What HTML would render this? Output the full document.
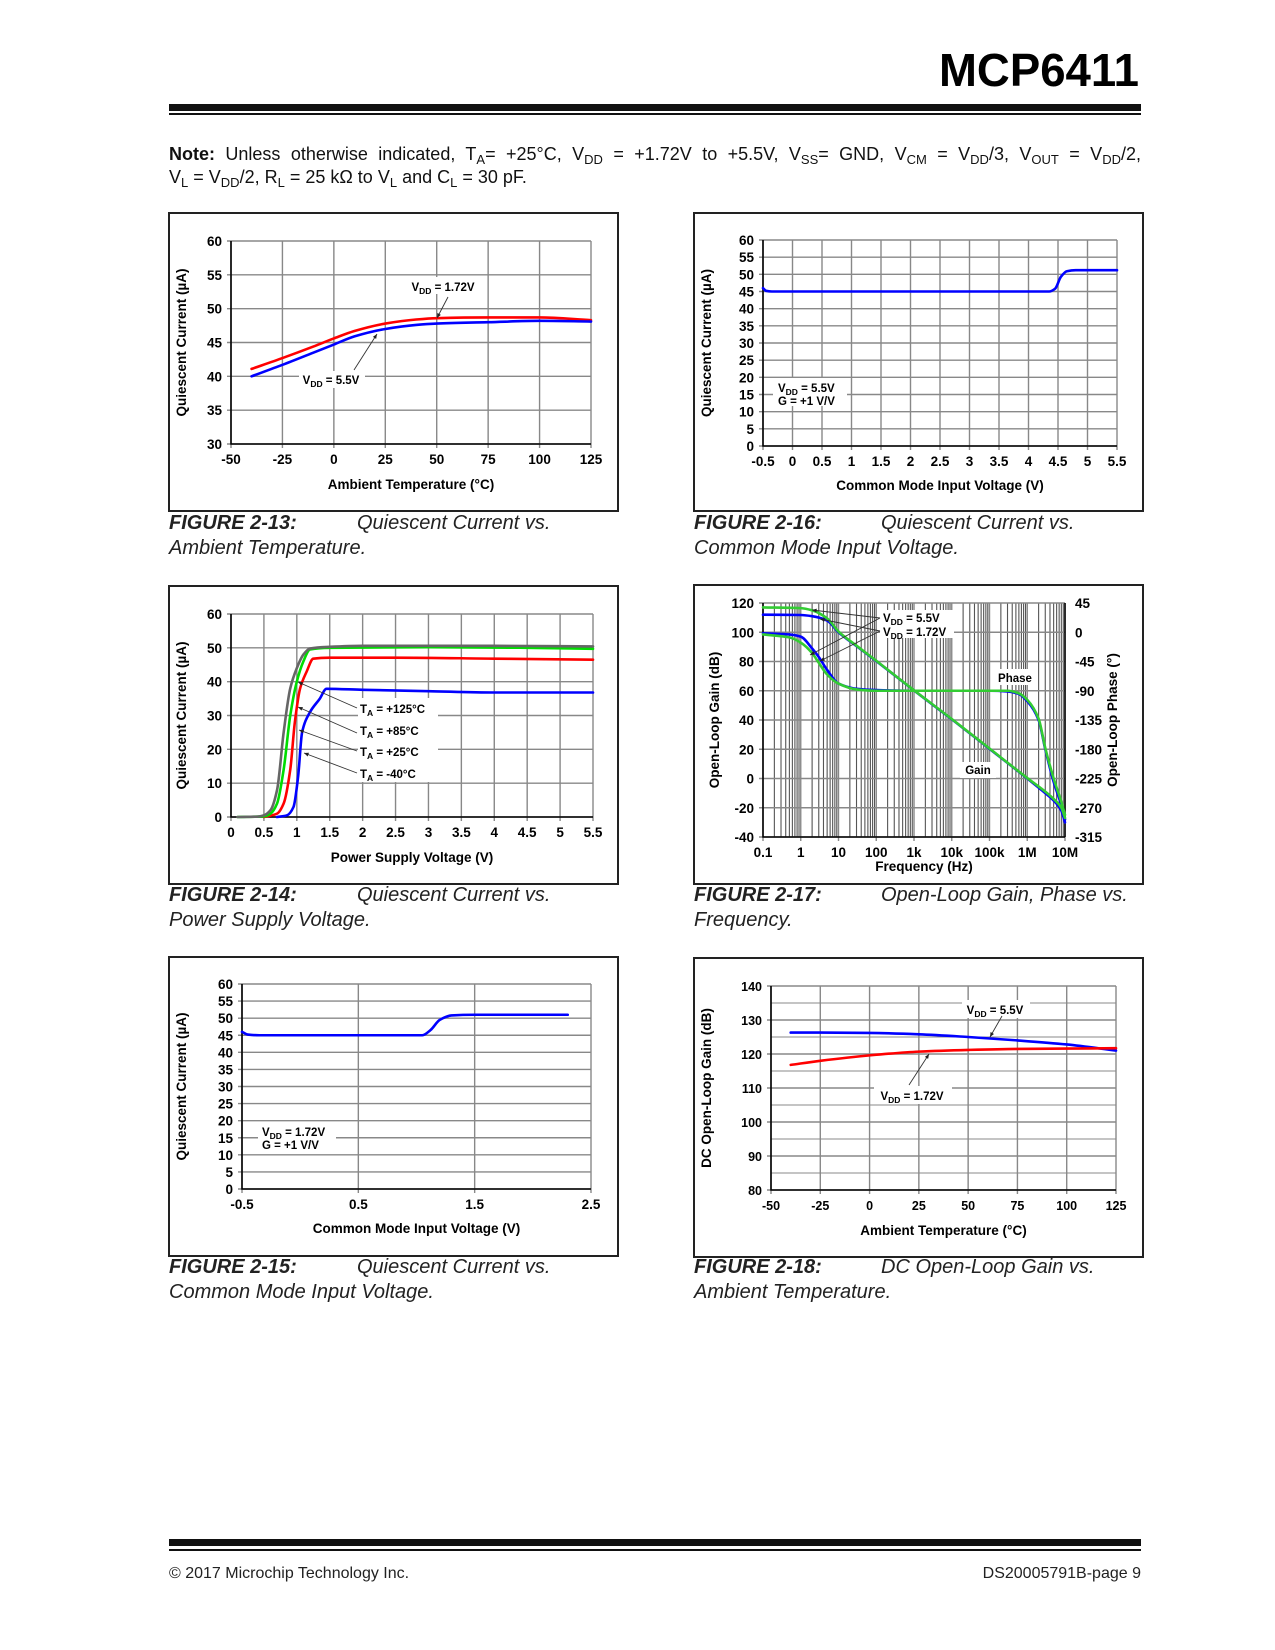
<!DOCTYPE html>
<html><head><meta charset="utf-8">
<style>
html,body{margin:0;padding:0;background:#fff;}
body{width:1275px;height:1650px;position:relative;overflow:hidden;font-family:"Liberation Sans",Arial,sans-serif;}
#note{position:absolute;left:169px;top:143px;width:972px;font-size:18px;line-height:23px;color:#111;}
#note .l1{text-align:justify;text-align-last:justify;white-space:nowrap;}
sub{font-size:13px;vertical-align:-4px;line-height:0;}
</style></head>
<body>
<div id="note">
<div class="l1"><b>Note:</b> Unless otherwise indicated, T<sub>A</sub>= +25°C, V<sub>DD</sub> = +1.72V to +5.5V, V<sub>SS</sub>= GND, V<sub>CM</sub> = V<sub>DD</sub>/3, V<sub>OUT</sub> = V<sub>DD</sub>/2,</div>
<div>V<sub>L</sub> = V<sub>DD</sub>/2, R<sub>L</sub> = 25 kΩ to V<sub>L</sub> and C<sub>L</sub> = 30 pF.</div>
</div>
<svg id="pg" width="1275" height="1650" style="position:absolute;left:0;top:0" xmlns="http://www.w3.org/2000/svg" font-family="Liberation Sans, Arial, sans-serif">
<text x="1139" y="86" text-anchor="end" font-size="46" font-weight="bold" textLength="200" lengthAdjust="spacingAndGlyphs">MCP6411</text>
<rect x="169" y="104" width="972" height="7" fill="#111"/>
<rect x="169" y="113" width="972" height="2" fill="#111"/>
<rect x="169" y="1539" width="972" height="7" fill="#111"/>
<rect x="169" y="1549" width="972" height="2" fill="#111"/>
<text x="169" y="1578" font-size="16" fill="#222">© 2017 Microchip Technology Inc.</text>
<text x="1141" y="1578" font-size="16" fill="#222" text-anchor="end">DS20005791B-page 9</text>
<g font-size="20" font-style="italic" fill="#222">
<text x="169" y="529"><tspan font-weight="bold">FIGURE 2-13:</tspan><tspan x="357">Quiescent Current vs.</tspan><tspan x="169" y="554">Ambient Temperature.</tspan></text>
<text x="694" y="529"><tspan font-weight="bold">FIGURE 2-16:</tspan><tspan x="881">Quiescent Current vs.</tspan><tspan x="694" y="554">Common Mode Input Voltage.</tspan></text>
<text x="169" y="901"><tspan font-weight="bold">FIGURE 2-14:</tspan><tspan x="357">Quiescent Current vs.</tspan><tspan x="169" y="926">Power Supply Voltage.</tspan></text>
<text x="694" y="901"><tspan font-weight="bold">FIGURE 2-17:</tspan><tspan x="881">Open-Loop Gain, Phase vs.</tspan><tspan x="694" y="926">Frequency.</tspan></text>
<text x="169" y="1273"><tspan font-weight="bold">FIGURE 2-15:</tspan><tspan x="357">Quiescent Current vs.</tspan><tspan x="169" y="1298">Common Mode Input Voltage.</tspan></text>
<text x="694" y="1273"><tspan font-weight="bold">FIGURE 2-18:</tspan><tspan x="881">DC Open-Loop Gain vs.</tspan><tspan x="694" y="1298">Ambient Temperature.</tspan></text>
</g>
</svg>
<script>
// ---- Figure 2-13 data ----
const f13Temp = [-40, -25, -10, 0, 10, 25, 40, 50, 75, 100, 125];
const f13Vdd172 = [41.1, 42.7, 44.4, 45.6, 46.7, 47.8, 48.4, 48.6, 48.7, 48.7, 48.3];
const f13Vdd55 = [40.0, 41.7, 43.5, 44.7, 45.9, 47.0, 47.6, 47.8, 48.0, 48.2, 48.1];
const f13XTicks = [-50, -25, 0, 25, 50, 75, 100, 125];
const f13YTicks = [30, 35, 40, 45, 50, 55, 60];
// ---- Figure 2-16 data ----
const f16Vcm = [-0.5, -0.45, -0.35, 4.35, 4.45, 4.55, 4.65, 4.8, 5.5];
const f16Iq = [46.0, 45.2, 45.0, 45.0, 45.8, 49.3, 50.9, 51.2, 51.2];
const f16XTicks = [-0.5, 0, 0.5, 1, 1.5, 2, 2.5, 3, 3.5, 4, 4.5, 5, 5.5];
const f16YTicks = [0, 5, 10, 15, 20, 25, 30, 35, 40, 45, 50, 55, 60];
// ---- Figure 2-14 data ----
const f14V125 = [0.1, 0.4, 0.5, 0.6, 0.7, 0.8, 0.9, 1.0, 1.1, 1.2, 1.5, 2, 3, 4, 5.5];
const f14I125 = [0, 0.1, 0.5, 2, 8, 25, 38, 44, 48, 49.8, 50.3, 50.6, 50.6, 50.6, 50.4];
const f14V85 = [0.1, 0.5, 0.6, 0.7, 0.8, 0.9, 1.0, 1.1, 1.2, 1.5, 3, 4.5, 5.5];
const f14I85 = [0, 0.2, 1, 4, 14, 30, 40, 46, 49.5, 50, 50.2, 50, 49.7];
const f14V25 = [0.5, 0.7, 0.8, 0.9, 0.97, 1.05, 1.15, 1.25, 1.5, 2.5, 4, 5.5];
const f14I25 = [0, 1, 4, 14, 28, 38, 43, 46.8, 47.1, 47.1, 46.8, 46.5];
const f14Vm40 = [0.7, 0.85, 0.95, 1.02, 1.08, 1.2, 1.35, 1.45, 2, 3, 4, 5.5];
const f14Im40 = [0, 0.5, 3, 12, 25, 31, 35, 37.9, 37.6, 37.2, 36.8, 36.8];
const f14XTicks = [0, 0.5, 1, 1.5, 2, 2.5, 3, 3.5, 4, 4.5, 5, 5.5];
const f14YTicks = [0, 10, 20, 30, 40, 50, 60];
// ---- Figure 2-17 data ----
const f17GainFreq = [0.1, 1, 2, 5, 10, 30, 100, 1e3, 1e4, 1e5, 1e6, 3e6, 5e6, 8e6, 1e7];
const f17Gain55 = [112, 111.8, 111, 108, 100, 90.5, 80.3, 60.2, 40.5, 20.3, 0, -10, -15, -22, -30];
const f17Gain172 = [117, 116.5, 115, 109.5, 100.5, 90.8, 80.5, 60.3, 40.7, 20.5, 0.3, -9, -14, -20, -27];
const f17PhaseFreq = [0.1, 0.5, 1, 2, 3, 5, 10, 30, 100, 1e3, 1e5, 3e5, 6e5, 1e6, 2e6, 3e6, 5e6, 8e6, 1e7];
const f17Phase55 = [-1.6, -3.4, -6.8, -25, -38, -58, -79, -87, -89, -90, -90, -91, -95, -106, -135, -180, -230, -266, -288];
const f17Phase172 = [-3.4, -7.9, -16, -32, -47, -65, -79, -88, -90, -90, -90, -90, -94, -104, -133, -178, -225, -261, -281];
const f17XTickLabels = ['0.1', '1', '10', '100', '1k', '10k', '100k', '1M', '10M'];
const f17GainTicks = [-40, -20, 0, 20, 40, 60, 80, 100, 120];
const f17PhaseTicks = [-315, -270, -225, -180, -135, -90, -45, 0, 45];
// ---- Figure 2-15 data ----
const f15Vcm = [-0.5, -0.45, -0.35, 1.05, 1.12, 1.2, 1.3, 1.5, 2.3];
const f15Iq = [46.0, 45.2, 45.0, 45.0, 46.5, 49.5, 50.8, 51.0, 51.0];
const f15XTicks = [-0.5, 0.5, 1.5, 2.5];
const f15YTicks = [0, 5, 10, 15, 20, 25, 30, 35, 40, 45, 50, 55, 60];
// ---- Figure 2-18 data ----
const f18Temp = [-40, -25, 0, 25, 50, 75, 100, 125];
const f18Gain55 = [126.3, 126.3, 126.2, 125.8, 125.0, 124.0, 122.8, 121.0];
const f18Gain172 = [116.8, 118.0, 119.6, 120.7, 121.2, 121.5, 121.6, 121.7];
const f18XTicks = [-50, -25, 0, 25, 50, 75, 100, 125];
const f18YTicks = [80, 90, 100, 110, 120, 130, 140];

const NS = 'http://www.w3.org/2000/svg';
const pg = document.getElementById('pg');
function mk(tag, attrs, parent) {
  const el = document.createElementNS(NS, tag);
  for (const k in attrs) el.setAttribute(k, attrs[k]);
  (parent || pg).appendChild(el);
  return el;
}
function linScale(d0, d1, r0, r1) { return v => r0 + (v - d0) / (d1 - d0) * (r1 - r0); }
function logScale(d0, d1, r0, r1) { return v => r0 + (Math.log10(v) - Math.log10(d0)) / (Math.log10(d1) - Math.log10(d0)) * (r1 - r0); }

function frame(x0, y0, x1, y1, name) {
  const el = mk('rect', {x: x0, y: y0, width: x1 - x0, height: y1 - y0, fill: 'none', stroke: '#222', 'stroke-width': 2});
  
  
}
function grid(g, xs, ys, L, R, T, B, xv, yv) {
  xv.forEach(v => {
    const el = mk('line', {x1: xs(v), x2: xs(v), y1: T, y2: B + 4, stroke: '#888', 'stroke-width': 1.4}, g);
    
    
  });
  yv.forEach(v => {
    const el = mk('line', {x1: L - 4, x2: R, y1: ys(v), y2: ys(v), stroke: '#888', 'stroke-width': 1.4}, g);
    
    
  });
  const ax = mk('path', {d: `M${L},${T}V${B}H${R}`, fill: 'none', stroke: '#000', 'stroke-width': 1.6}, g);
  
  
}
function tickLabels(g, xs, ys, B, L, xv, yv, fs, xlab) {
  xv.forEach((v, i) => {
    const t = mk('text', {x: xs(v), y: B + 20, 'text-anchor': 'middle', 'font-size': fs, 'font-weight': 'bold'}, g);
    t.textContent = xlab ? xlab[i] : String(v);
    
    
  });
  yv.forEach(v => {
    const t = mk('text', {x: L - 9, y: ys(v) + 5, 'text-anchor': 'end', 'font-size': fs, 'font-weight': 'bold'}, g);
    t.textContent = String(v);
    
    
  });
}
function axisTitles(g, xt, xx, xy, yt, yx, yy) {
  const a = mk('text', {x: xx, y: xy, 'text-anchor': 'middle', 'font-size': 13.5, 'font-weight': 'bold'}, g);
  a.textContent = xt;
  
  
  const b = mk('text', {x: yx, y: yy, 'text-anchor': 'middle', 'font-size': 13.5, 'font-weight': 'bold', transform: `rotate(-90 ${yx} ${yy})`}, g);
  b.textContent = yt;
  
  
}
function series(g, xs, ys, X, Y, color, name, w) {
  const P = X.map((x, i) => [xs(x), ys(Y[i])]);
  const n = P.length;
  const dx = [], sl = [];
  for (let i = 0; i < n - 1; i++) { dx.push(P[i + 1][0] - P[i][0]); sl.push((P[i + 1][1] - P[i][1]) / dx[i]); }
  const m = new Array(n);
  m[0] = sl[0]; m[n - 1] = sl[n - 2];
  for (let i = 1; i < n - 1; i++) {
    if (sl[i - 1] * sl[i] <= 0) m[i] = 0;
    else { const w1 = 2 * dx[i] + dx[i - 1], w2 = dx[i] + 2 * dx[i - 1]; m[i] = (w1 + w2) / (w1 / sl[i - 1] + w2 / sl[i]); }
  }
  let d = 'M' + P[0][0].toFixed(2) + ',' + P[0][1].toFixed(2);
  for (let i = 0; i < n - 1; i++) {
    const h = dx[i] / 3;
    d += 'C' + (P[i][0] + h).toFixed(2) + ',' + (P[i][1] + m[i] * h).toFixed(2) + ' ' + (P[i + 1][0] - h).toFixed(2) + ',' + (P[i + 1][1] - m[i + 1] * h).toFixed(2) + ' ' + P[i + 1][0].toFixed(2) + ',' + P[i + 1][1].toFixed(2);
  }
  const p = mk('path', {d: d, fill: 'none', stroke: color, 'stroke-width': w || 2.6, 'stroke-linejoin': 'round', 'stroke-linecap': 'round'}, g);
  
  
}
function bgBox(g, x, y, w, h) {
  const r = mk('rect', {x: x, y: y, width: w, height: h, fill: '#fff'}, g);
  
  
}
function label(g, x, y, main, sub, rest, anchor, name) {
  const t = mk('text', {x: x, y: y, 'font-size': 11.5, 'font-weight': 'bold', 'text-anchor': anchor || 'start'}, g);
  
  
  const a = mk('tspan', {}, t); a.textContent = main;
  if (sub) { const s = mk('tspan', {'font-size': 8.5, dy: 3}, t); s.textContent = sub; }
  const r = mk('tspan', sub ? {dy: -3} : {}, t); r.textContent = rest;
}
function arrow(g, x1, y1, x2, y2) {
  const l = mk('line', {x1: x1, y1: y1, x2: x2, y2: y2, stroke: '#333', 'stroke-width': 0.9}, g);
  
  
  const a = Math.atan2(y2 - y1, x2 - x1), s = 5;
  const h = mk('path', {d: `M${x2},${y2}L${x2 - s * Math.cos(a - 0.4)},${y2 - s * Math.sin(a - 0.4)}L${x2 - s * Math.cos(a + 0.4)},${y2 - s * Math.sin(a + 0.4)}Z`, fill: '#222'}, g);
  
  
}
function group(name) {
  const g = mk('g', {});
  
  
  return g;
}

// ===== Figure 2-13 =====
(function () {
  frame(169, 213, 618, 511, 'figure-2-13-frame');
  const g = group('chart-2-13');
  const L = 231, R = 591, T = 241, B = 444;
  const xs = linScale(-50, 125, L, R), ys = linScale(30, 60, B, T);
  grid(g, xs, ys, L, R, T, B, f13XTicks, f13YTicks);
  tickLabels(g, xs, ys, B, L, f13XTicks, f13YTicks, 13.5);
  axisTitles(g, 'Ambient Temperature (°C)', (L + R) / 2, 489, 'Quiescent Current (µA)', 186, (T + B) / 2);
  series(g, xs, ys, f13Temp, f13Vdd172, '#f00', 'series-vdd-1.72v');
  series(g, xs, ys, f13Temp, f13Vdd55, '#00f', 'series-vdd-5.5v');
  bgBox(g, 404, 277, 78, 17);
  label(g, 443, 291, 'V', 'DD', ' = 1.72V', 'middle', 'label-vdd-1.72v');
  arrow(g, 448, 297, 437, 318);
  bgBox(g, 299, 371, 66, 17);
  label(g, 331, 384, 'V', 'DD', ' = 5.5V', 'middle', 'label-vdd-5.5v');
  arrow(g, 354, 370, 377, 334);
})();

// ===== Figure 2-16 =====
(function () {
  frame(694, 213, 1143, 511, 'figure-2-16-frame');
  const g = group('chart-2-16');
  const L = 763, R = 1117, T = 240, B = 446;
  const xs = linScale(-0.5, 5.5, L, R), ys = linScale(0, 60, B, T);
  grid(g, xs, ys, L, R, T, B, f16XTicks, f16YTicks);
  tickLabels(g, xs, ys, B, L, f16XTicks, f16YTicks, 13.5);
  axisTitles(g, 'Common Mode Input Voltage (V)', (L + R) / 2, 490, 'Quiescent Current (µA)', 711, (T + B) / 2);
  series(g, xs, ys, f16Vcm, f16Iq, '#00f', 'series-iq');
  bgBox(g, 773, 378, 74, 28);
  label(g, 778, 392, 'V', 'DD', ' = 5.5V', 'start', 'label-vdd-5.5v');
  label(g, 778, 405, 'G = +1 V/V', '', '', 'start', 'label-gain');
})();

// ===== Figure 2-14 =====
(function () {
  frame(169, 586, 618, 884, 'figure-2-14-frame');
  const g = group('chart-2-14');
  const L = 231, R = 593, T = 614, B = 817;
  const xs = linScale(0, 5.5, L, R), ys = linScale(0, 60, B, T);
  grid(g, xs, ys, L, R, T, B, f14XTicks, f14YTicks);
  tickLabels(g, xs, ys, B, L, f14XTicks, f14YTicks, 13.5);
  axisTitles(g, 'Power Supply Voltage (V)', (L + R) / 2, 862, 'Quiescent Current (µA)', 186, (T + B) / 2);
  series(g, xs, ys, f14Vm40, f14Im40, '#00f', 'series-ta-minus40');
  series(g, xs, ys, f14V25, f14I25, '#f00', 'series-ta-25');
  series(g, xs, ys, f14V85, f14I85, '#0d0', 'series-ta-85');
  series(g, xs, ys, f14V125, f14I125, '#666', 'series-ta-125');
  bgBox(g, 358, 698, 80, 84);
  label(g, 360, 713, 'T', 'A', ' = +125°C', 'start', 'label-ta-125');
  label(g, 360, 735, 'T', 'A', ' = +85°C', 'start', 'label-ta-85');
  label(g, 360, 756, 'T', 'A', ' = +25°C', 'start', 'label-ta-25');
  label(g, 360, 778, 'T', 'A', ' = -40°C', 'start', 'label-ta-minus40');
  arrow(g, 357, 708, 298, 682);
  arrow(g, 357, 733, 298, 707);
  arrow(g, 357, 751, 299, 730);
  arrow(g, 357, 773, 304, 753);
})();

// ===== Figure 2-17 =====
(function () {
  frame(694, 585, 1143, 884, 'figure-2-17-frame');
  const g = group('chart-2-17');
  const L = 763, R = 1065, T = 603, B = 837;
  const xs = logScale(0.1, 1e7, L, R), ys = linScale(-40, 120, B, T), ps = linScale(-315, 45, B, T);
  for (let d = 0; d < 8; d++) {
    for (let m = 2; m <= 9; m++) {
      const f = Math.pow(10, d - 1) * m;
      const el = mk('line', {x1: xs(f), x2: xs(f), y1: T, y2: B, stroke: '#555', 'stroke-width': 1.1}, g);
      
      
    }
  }
  const decades = f17XTickLabels.map((s, i) => Math.pow(10, i - 1));
  grid(g, xs, ys, L, R, T, B, decades, f17GainTicks);
  const ra = mk('line', {x1: R, x2: R, y1: T, y2: B, stroke: '#000', 'stroke-width': 1.6}, g);
  
  
  tickLabels(g, xs, ys, B, L, decades, f17GainTicks, 13.5, f17XTickLabels);
  f17PhaseTicks.forEach(v => {
    const t = mk('text', {x: R + 10, y: ps(v) + 5, 'font-size': 13.5, 'font-weight': 'bold'}, g);
    t.textContent = String(v);
    
    
  });
  axisTitles(g, 'Frequency (Hz)', (L + R) / 2 + 10, 871, 'Open-Loop Gain (dB)', 719, (T + B) / 2);
  const pt = mk('text', {x: 1117, y: (T + B) / 2, 'text-anchor': 'middle', 'font-size': 13.5, 'font-weight': 'bold', transform: `rotate(-90 1117 ${(T + B) / 2})`}, g);
  pt.textContent = 'Open-Loop Phase (°)';
  
  
  series(g, xs, ps, f17PhaseFreq, f17Phase55, '#00f', 'phase-vdd-5.5v');
  series(g, xs, ys, f17GainFreq, f17Gain55, '#00f', 'gain-vdd-5.5v');
  series(g, xs, ps, f17PhaseFreq, f17Phase172, '#3c3', 'phase-vdd-1.72v');
  series(g, xs, ys, f17GainFreq, f17Gain172, '#3c3', 'gain-vdd-1.72v');
  bgBox(g, 880, 610, 74, 28);
  label(g, 883, 622, 'V', 'DD', ' = 5.5V', 'start', 'label-vdd-5.5v');
  label(g, 883, 636, 'V', 'DD', ' = 1.72V', 'start', 'label-vdd-1.72v');
  arrow(g, 880, 618, 812, 610);
  arrow(g, 880, 618, 810, 655);
  arrow(g, 880, 631, 820, 619);
  arrow(g, 880, 631, 820, 661);
  bgBox(g, 993, 669, 44, 16);
  label(g, 1015, 682, 'Phase', '', '', 'middle', 'label-phase');
  bgBox(g, 960, 762, 36, 16);
  label(g, 978, 774, 'Gain', '', '', 'middle', 'label-gain');
})();

// ===== Figure 2-15 =====
(function () {
  frame(169, 957, 618, 1256, 'figure-2-15-frame');
  const g = group('chart-2-15');
  const L = 242, R = 591, T = 984, B = 1189;
  const xs = linScale(-0.5, 2.5, L, R), ys = linScale(0, 60, B, T);
  grid(g, xs, ys, L, R, T, B, f15XTicks, f15YTicks);
  tickLabels(g, xs, ys, B, L, f15XTicks, f15YTicks, 13.5);
  axisTitles(g, 'Common Mode Input Voltage (V)', (L + R) / 2, 1233, 'Quiescent Current (µA)', 186, (T + B) / 2);
  series(g, xs, ys, f15Vcm, f15Iq, '#00f', 'series-iq');
  bgBox(g, 258, 1122, 78, 28);
  label(g, 262, 1136, 'V', 'DD', ' = 1.72V', 'start', 'label-vdd-1.72v');
  label(g, 262, 1149, 'G = +1 V/V', '', '', 'start', 'label-gain');
})();

// ===== Figure 2-18 =====
(function () {
  frame(694, 958, 1143, 1257, 'figure-2-18-frame');
  const g = group('chart-2-18');
  const L = 771, R = 1116, T = 986, B = 1190;
  const xs = linScale(-50, 125, L, R), ys = linScale(80, 140, B, T);
  const minor = f18YTicks.slice(0, -1).map(v => v + 5);
  minor.forEach(v => {
    const el = mk('line', {x1: L, x2: R, y1: ys(v), y2: ys(v), stroke: '#888', 'stroke-width': 1}, g);
    
    
  });
  grid(g, xs, ys, L, R, T, B, f18XTicks, f18YTicks);
  tickLabels(g, xs, ys, B, L, f18XTicks, f18YTicks, 12.5);
  axisTitles(g, 'Ambient Temperature (°C)', (L + R) / 2, 1235, 'DC Open-Loop Gain (dB)', 711, (T + B) / 2);
  series(g, xs, ys, f18Temp, f18Gain55, '#00f', 'series-vdd-5.5v');
  series(g, xs, ys, f18Temp, f18Gain172, '#f00', 'series-vdd-1.72v');
  bgBox(g, 962, 1000, 68, 18);
  label(g, 995, 1014, 'V', 'DD', ' = 5.5V', 'middle', 'label-vdd-5.5v');
  arrow(g, 1002, 1016, 990, 1037);
  bgBox(g, 874, 1086, 78, 18);
  label(g, 912, 1100, 'V', 'DD', ' = 1.72V', 'middle', 'label-vdd-1.72v');
  arrow(g, 909, 1085, 929, 1054);
})();
</script>
</body></html>
